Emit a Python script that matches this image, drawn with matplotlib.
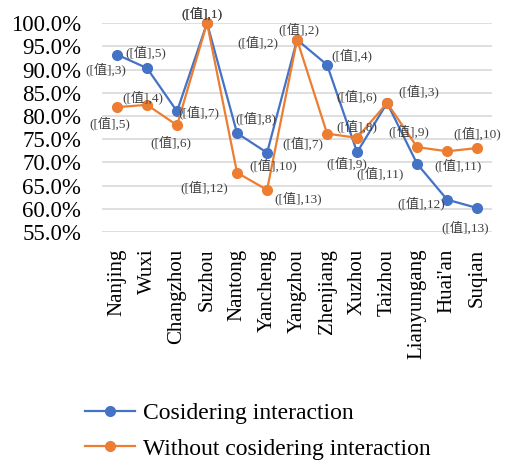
import matplotlib
matplotlib.use('Agg')
import matplotlib.pyplot as plt
from matplotlib.ticker import FuncFormatter

cities = ['Nanjing', 'Wuxi', 'Changzhou', 'Suzhou', 'Nantong', 'Yancheng', 'Yangzhou',
          'Zhenjiang', 'Xuzhou', 'Taizhou', 'Lianyungang', "Huai'an", 'Suqian']

# efficiency (%)
with_inter = [93.2, 90.3, 81.0, 100.0, 76.3, 72.1, 96.4, 91.0, 72.2, 82.8, 69.7, 62.0, 60.2]
without_inter = [81.9, 82.4, 78.0, 100.0, 67.8, 64.1, 96.4, 76.2, 75.3, 82.8, 73.3, 72.4, 73.1]

# rank labels shown next to the points
rank_with = [3, 5, 7, 1, 8, 10, 2, 4, 9, 6, 11, 12, 13]
rank_without = [5, 4, 6, 1, 12, 13, 2, 7, 8, 3, 9, 11, 10]

# label offsets in pixels (dx, dy up)
off_with = [(-11, -15), (-1, 16), (22, -1), (-5, 10), (19, 15), (6, -13), (-39, -3),
            (25, 9), (-10, -11), (-30, 7), (-37, -10), (-26, -4), (-12, -19)]
off_without = [(-7, -16), (-4, 7), (-6, -17), (-5, 10), (-33, -15), (31, -9), (2, 10),
               (-24, -10), (0, 11), (32, 12), (-8, 16), (11, -14), (0, 15)]

blue = '#4472C4'
orange = '#ED7D31'
serif = 'Liberation Serif'
label_fam = [serif, 'Noto Sans CJK SC']

fig = plt.figure(figsize=(5.1, 4.7), dpi=100)
ax = fig.add_axes([0.2, 0.506, 0.765, 0.445])

x = list(range(len(cities)))
ax.plot(x, with_inter, color=blue, lw=1.6, marker='o', ms=7, clip_on=False, zorder=3,
        label='Cosidering interaction')
ax.plot(x, without_inter, color=orange, lw=1.6, marker='o', ms=7, clip_on=False, zorder=3,
        label='Without cosidering interaction')

for vals, ranks, offs in [(with_inter, rank_with, off_with), (without_inter, rank_without, off_without)]:
    for i, (v, r) in enumerate(zip(vals, ranks)):
        dx, dy = offs[i]
        ax.annotate('([值],%d)' % r, (i, v), xytext=(dx * 0.72, dy * 0.72),
                    textcoords='offset points', ha='center', va='center',
                    fontsize=9.5, family=label_fam, color='#404040', zorder=4,
                    annotation_clip=False)

ax.set_xlim(-0.5, len(cities) - 0.5)
ax.set_ylim(55, 100)
ax.set_yticks(range(55, 101, 5))
ax.yaxis.set_major_formatter(FuncFormatter(lambda v, p: '%.1f%%' % v))
ax.set_xticks(x)
ax.set_xticklabels(cities, rotation=90, family=serif, fontsize=15)
for t in ax.get_yticklabels():
    t.set_family(serif)
    t.set_fontsize(16.5)
ax.tick_params(axis='both', length=0, colors='#000000')
ax.tick_params(axis='y', pad=15)
ax.tick_params(axis='x', pad=12)
ax.grid(axis='y', color='#D9D9D9', lw=1.2)
ax.set_axisbelow(True)
for s in ax.spines.values():
    s.set_visible(False)

fig.legend(loc='center left', bbox_to_anchor=(85 / 510, 1 - 431 / 470), frameon=False,
           prop={'family': serif, 'size': 17}, handlelength=2.1, handletextpad=0.35,
           labelspacing=0.6, borderpad=0, borderaxespad=0, markerscale=1.0)

fig.savefig('out.png', dpi=100)
